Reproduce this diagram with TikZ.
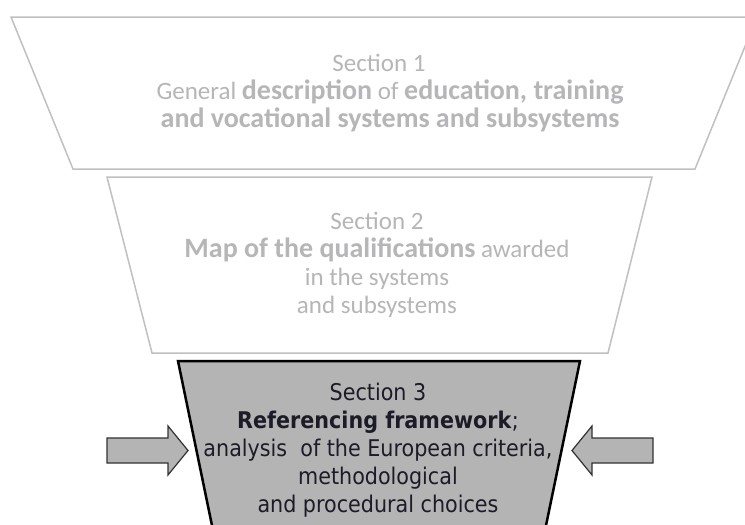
\documentclass[tikz,border=0pt]{standalone}
\usepackage{fontspec}
\setmainfont{Carlito}
\newfontfamily\secfont{DejaVu Sans Condensed}
\newcommand\bw[1]{{\fontsize{28}{28}\selectfont\bfseries #1}}
\begin{document}
\begin{tikzpicture}[x=1pt,y=-1pt]
\definecolor{lightline}{RGB}{192,192,192}
\definecolor{lighttext}{RGB}{182,182,185}
\definecolor{boxfill}{RGB}{180,180,180}
\definecolor{darktext}{RGB}{28,28,40}
\definecolor{arrowline}{RGB}{50,50,50}
\tikzset{
  upperbox/.style={draw=lightline, line width=1.5pt, fill=white, line join=miter},
  mainbox/.style={draw=black, line width=2.5pt, fill=boxfill, line join=miter},
  uppertext/.style={text=lighttext, align=center, inner sep=0pt, font=\fontsize{25}{28}\selectfont},
  maintext/.style={text=darktext, align=center, inner sep=0pt, font=\secfont\fontsize{23}{28}\selectfont},
  sidearrow/.style={draw=arrowline, line width=1.2pt, fill=boxfill, line join=miter}
}
\useasboundingbox (0,0) rectangle (745,525);
\clip (0,0) rectangle (745,525);
% funnel sections
\draw[upperbox] (11,17) -- (757,17) -- (695,169) -- (73,169) -- cycle;
\draw[upperbox] (107,177) -- (652,177) -- (608,353) -- (152,353) -- cycle;
\draw[mainbox] (178,361) -- (580,361) -- (543,540) -- (215,540) -- cycle;
% texts
\node[uppertext] (s1) at (390,93) {Section 1\hspace*{22pt}\\General \bw{description} of \bw{education, training}\\\bw{and vocational systems and subsystems}};
\node[uppertext] (s2) at (377,265) {Section 2\\\bw{Map of the qualifications} awarded\\in the systems\\and subsystems};
\node[maintext] (s3) at (378,450) {Section 3\\\textbf{Referencing framework};\\analysis\ \ of the European criteria,\\methodological\\and procedural choices};
% side arrows
\coordinate (la) at (107,450.5);
\coordinate (ra) at (653,450.5);
\draw[sidearrow] (la) ++(0,-12.5) -- ++(61,0) -- ++(0,-12) -- (188,450.5) -- (168,475) -- ++(0,-12) -- ++(-61,0) -- cycle;
\draw[sidearrow] (ra) ++(0,-12.5) -- ++(-61,0) -- ++(0,-12) -- (572,450.5) -- (592,475) -- ++(0,-12) -- ++(61,0) -- cycle;
\end{tikzpicture}
\end{document}
